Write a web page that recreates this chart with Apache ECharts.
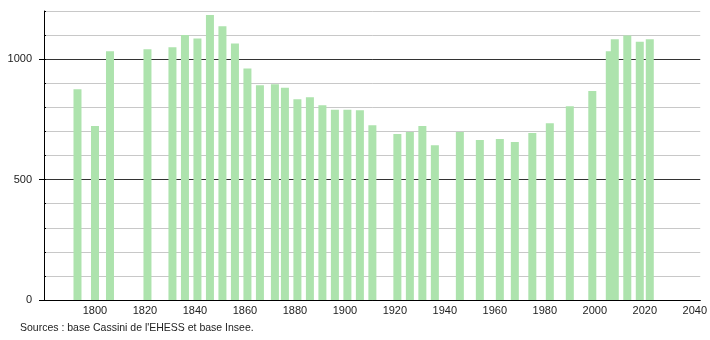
<!DOCTYPE html>
<html>
<head>
<meta charset="utf-8">
<script src="https://cdn.jsdelivr.net/npm/echarts@6/dist/echarts.min.js"></script>
<style>
html,body{margin:0;padding:0;background:#fff;}
#chart{width:710px;height:340px;}
</style>
</head>
<body>
<div id="chart"></div>
<script>
var years = [1793,1800,1806,1821,1831,1836,1841,1846,1851,1856,1861,1866,1872,1876,1881,1886,1891,1896,1901,1906,1911,1921,1926,1931,1936,1946,1954,1962,1968,1975,1982,1990,1999,2006,2008,2013,2018,2022];
var population = [875,722,1033,1041,1050,1100,1086,1183,1137,1065,961,892,896,881,834,842,809,790,790,788,726,689,698,722,643,698,664,668,656,693,734,805,868,1033,1083,1098,1072,1083];
var xTickLabels = [1800,1820,1840,1860,1880,1900,1920,1940,1960,1980,2000,2020,2040];
var yTickLabels = [0,500,1000];
var sourceText = "Sources : base Cassini de l'EHESS et base Insee.";

var chart = echarts.init(document.getElementById('chart'), null, {renderer:'canvas'});
var fontFam = '"Liberation Sans", Arial, sans-serif';
chart.setOption({
  animation: false,
  backgroundColor: '#fff',
  grid: {left: 44, right: 9, top: 11, bottom: 40, containLabel: false},
  xAxis: {
    type: 'value',
    min: 1779.6,
    max: 2042.2,
    axisLine: {show: true, lineStyle: {color: '#000', width: 1}},
    axisTick: {show: false},
    splitLine: {show: false},
    axisLabel: {
      customValues: xTickLabels,
      color: '#222',
      fontSize: 11,
      fontFamily: fontFam,
      margin: 5,
      formatter: function(v){ return String(v); }
    }
  },
  yAxis: [{
    type: 'value',
    position: 'left',
    min: 0,
    max: 1200,
    interval: 100,
    axisLine: {show: true, lineStyle: {color: '#000', width: 1}},
    axisTick: {show: true, inside: true, length: 2, lineStyle: {color: '#000'}},
    axisLabel: {
      customValues: yTickLabels,
      color: '#222',
      fontSize: 11,
      fontFamily: fontFam,
      margin: 12,
      formatter: function(v){ return String(v); }
    },
    splitLine: {show: true, lineStyle: {color: ['#333','#c8c8c8','#c8c8c8','#c8c8c8','#c8c8c8'], width: 1}}
  }, {
    type: 'value',
    position: 'left',
    offset: 0,
    min: 0,
    max: 1200,
    interval: 100,
    axisLine: {show: false},
    axisTick: {show: true, length: 5, lineStyle: {color: '#000'}, customValues: yTickLabels},
    axisLabel: {show: false},
    splitLine: {show: false}
  }],
  series: [{
    type: 'bar',
    yAxisIndex: 0,
    data: years.map(function(y, i){ return [y, population[i]]; }),
    barWidth: 8,
    itemStyle: {color: '#ade3ad'},
    silent: true
  }],
  graphic: [{
    type: 'text',
    left: 20,
    top: 323,
    style: {text: sourceText, fill: '#222', font: '10.5px ' + fontFam}
  }]
});
</script>
</body>
</html>
